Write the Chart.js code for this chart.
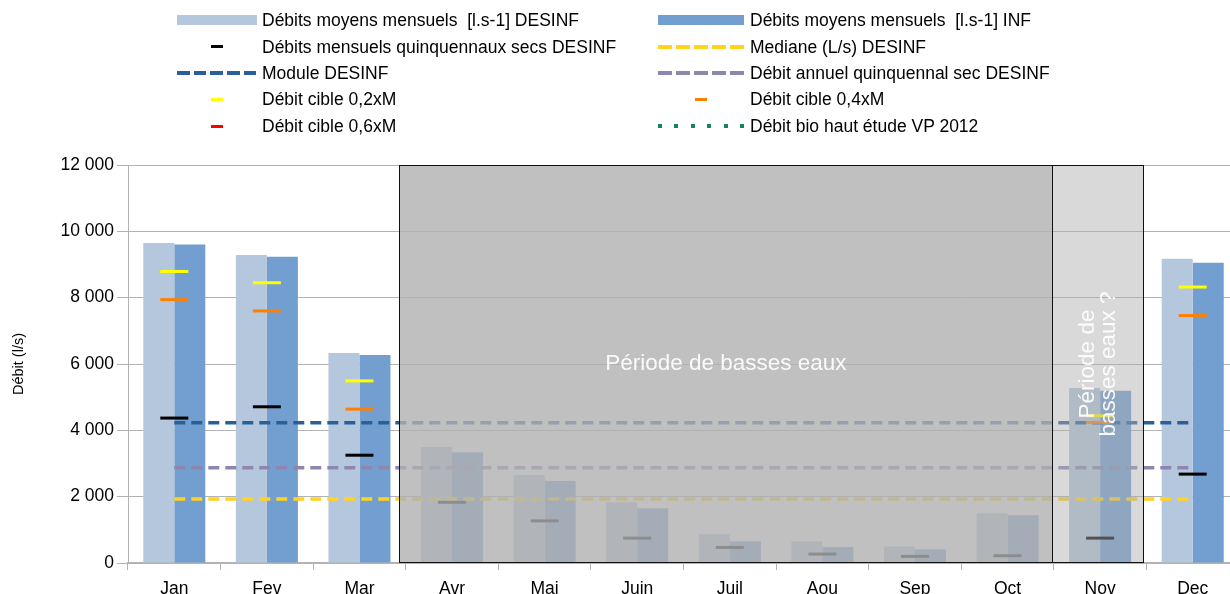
<!DOCTYPE html>
<html lang="fr">
<head>
<meta charset="utf-8">
<title>Débits moyens mensuels</title>
<script src="https://cdn.jsdelivr.net/npm/chart.js@4.4.1/dist/chart.umd.min.js"></script>
<style>
  html, body { margin: 0; padding: 0; background: #fff; overflow: hidden; }
  #wrap { position: relative; width: 1256px; height: 600px; font-family: "Liberation Sans", Arial, sans-serif; }
  #chart { position: absolute; left: 0; top: 0; }
  #legend { position: absolute; left: 0; top: 0; width: 1240px; height: 140px; }
  .item { position: absolute; height: 20px; line-height: 20px; font-size: 17.5px; color: #000; white-space: pre; }
  .sym { position: absolute; }
</style>
</head>
<body>
<div id="wrap">
  <canvas id="chart" width="1256" height="600"></canvas>
  <div id="legend"></div>
</div>
<script>
// categories
const months = ['Jan', 'Fev', 'Mar', 'Avr', 'Mai', 'Juin', 'Juil', 'Aou', 'Sep', 'Oct', 'Nov', 'Dec'];

// series (l/s)
const debitsDesinf = [9650, 9290, 6330, 3500, 2650, 1830, 870, 650, 500, 1500, 5280, 9170];
const debitsInf = [9600, 9230, 6270, 3340, 2470, 1650, 650, 480, 410, 1440, 5190, 9050];
const quinquennauxSecs = [4370, 4710, 3250, 1830, 1270, 750, 470, 270, 200, 220, 750, 2680];
const mediane = [1930, 1930, 1930, 1930, 1930, 1930, 1930, 1930, 1930, 1930, 1930, 1930];
const moduleDesinf = [4230, 4230, 4230, 4230, 4230, 4230, 4230, 4230, 4230, 4230, 4230, 4230];
const annuelQuinquennal = [2870, 2870, 2870, 2870, 2870, 2870, 2870, 2870, 2870, 2870, 2870, 2870];
const cible02 = [8790, 8450, 5490, null, null, null, null, null, null, null, 4440, 8320];
const cible04 = [7940, 7600, 4640, null, null, null, null, null, null, null, 4240, 7460];
const cible06 = [null, null, null, null, null, null, null, null, null, null, null, null];
const bioHaut = [null, null, null, null, null, null, null, null, null, null, null, null];

// y ticks
const yTicks = [0, 2000, 4000, 6000, 8000, 10000, 12000];

// shaded periods (in category units)
const zones = [
  { from: 2.43, to: 9.485, fill: 'rgba(176,176,176,0.8)', text: ['Période de basses eaux'], vertical: false },
  { from: 9.485, to: 10.47, fill: 'rgba(174,174,174,0.47)', text: ['Période de', 'basses eaux ?'], vertical: true }
];

function fmt(v) {
  return String(v).replace(/\B(?=(\d{3})+(?!\d))/g, ' ');
}

const FONT = '"Liberation Sans", Arial, sans-serif';

function marker(label, data, color) {
  return {
    type: 'line', label: label, data: data, showLine: false,
    pointStyle: 'line', pointRadius: 14, pointHoverRadius: 14,
    pointBorderWidth: 3, borderColor: color, backgroundColor: color,
    pointBorderColor: color, order: 0, legendKind: 'marker'
  };
}
function dashed(label, data, color, dash, kind) {
  return {
    type: 'line', label: label, data: data, borderColor: color, backgroundColor: color,
    borderWidth: 3.5, borderDash: dash, pointRadius: 0, fill: false, order: 1,
    legendKind: kind || 'dash'
  };
}

const zonesPlugin = {
  id: 'zones',
  afterDatasetsDraw(chart) {
    const ctx = chart.ctx;
    const area = chart.chartArea;
    const x = chart.scales.x;
    ctx.save();
    zones.forEach(z => {
      const x0 = x.getPixelForValue(z.from);
      const x1 = x.getPixelForValue(z.to);
      ctx.fillStyle = z.fill;
      ctx.fillRect(x0, area.top, x1 - x0, area.bottom - area.top);
      ctx.strokeStyle = '#111';
      ctx.lineWidth = 1;
      ctx.strokeRect(Math.round(x0) + 0.5, area.top + 0.5, Math.round(x1 - x0), area.bottom - area.top - 1);
      const cx = (x0 + x1) / 2, cy = (area.top + area.bottom) / 2;
      ctx.fillStyle = 'rgba(255,255,255,0.92)';
      ctx.font = '22.5px ' + FONT;
      ctx.textAlign = 'center';
      ctx.textBaseline = 'middle';
      const lh = 21;
      ctx.save();
      ctx.translate(cx, cy);
      if (z.vertical) ctx.rotate(-Math.PI / 2);
      z.text.forEach((t, i) => {
        ctx.fillText(t, 0, (i - (z.text.length - 1) / 2) * lh);
      });
      ctx.restore();
    });
    ctx.restore();
  }
};

const chart = new Chart(document.getElementById('chart'), {
  type: 'bar',
  data: {
    labels: months,
    datasets: [
      { label: 'Débits moyens mensuels  [l.s-1] DESINF', data: debitsDesinf, backgroundColor: '#b4c7dc', order: 2, legendKind: 'bar' },
      { label: 'Débits moyens mensuels  [l.s-1] INF', data: debitsInf, backgroundColor: '#729fcf', order: 2, legendKind: 'bar' },
      marker('Débits mensuels quinquennaux secs DESINF', quinquennauxSecs, '#000000'),
      dashed('Mediane (L/s) DESINF', mediane, '#ffd320', [11, 6]),
      dashed('Module DESINF', moduleDesinf, '#2a6099', [11, 6]),
      dashed('Débit annuel quinquennal sec DESINF', annuelQuinquennal, '#8e86ae', [11, 6]),
      marker('Débit cible 0,2xM', cible02, '#ffff00'),
      marker('Débit cible 0,4xM', cible04, '#ff8000'),
      marker('Débit cible 0,6xM', cible06, '#ff0000'),
      dashed('Débit bio haut étude VP 2012', bioHaut, '#158466', [4, 12], 'dot')
    ]
  },
  options: {
    responsive: false,
    animation: false,
    devicePixelRatio: 1,
    layout: { padding: { top: 165, left: 0, right: 1, bottom: 0 } },
    datasets: { bar: { categoryPercentage: 0.67, barPercentage: 1.0 } },
    plugins: {
      legend: { display: false },
      tooltip: { enabled: false }
    },
    scales: {
      x: {
        offset: true,
        grid: { display: true, drawOnChartArea: false, offset: true, tickLength: 7, color: '#b3b3b3', lineWidth: 1 },
        border: { color: '#b3b3b3', width: 2 },
        ticks: { color: '#000', font: { family: FONT, size: 17.5 }, padding: 9, maxRotation: 0 },
        afterFit(scale) { scale.height = 37; }
      },
      y: {
        min: 0,
        max: 12000,
        afterBuildTicks(scale) { scale.ticks = yTicks.map(v => ({ value: v })); },
        grid: { color: '#b3b3b3', lineWidth: 1, tickLength: 11 },
        border: { color: '#b3b3b3', width: 1 },
        ticks: { color: '#000', font: { family: FONT, size: 17.5 }, padding: 3, callback: v => fmt(v) },
        title: { display: true, text: 'Débit (l/s)', color: '#000', font: { family: FONT, size: 14.5 }, padding: { top: 10, bottom: 0 } },
        afterFit(scale) { scale.width = 128; }
      }
    }
  },
  plugins: [zonesPlugin]
});

// legend, two columns, built from the chart datasets
const legendCols = [
  { symLeft: 177, symWidth: 80, textLeft: 262 },
  { symLeft: 658, symWidth: 86, textLeft: 750 }
];
const legendRowY = [20, 46.5, 72.5, 99, 126];
const legendEl = document.getElementById('legend');
chart.data.datasets.forEach((ds, i) => {
  const col = legendCols[i % 2];
  const cy = legendRowY[Math.floor(i / 2)];
  const item = document.createElement('div');
  item.className = 'item';
  item.style.left = col.symLeft + 'px';
  item.style.top = (cy - 10) + 'px';
  const sym = document.createElement('div');
  sym.className = 'sym';
  const color = ds.legendKind === 'bar' ? ds.backgroundColor : ds.borderColor;
  if (ds.legendKind === 'bar') {
    Object.assign(sym.style, { left: '0px', top: '5px', width: col.symWidth + 'px', height: '10px', background: color });
  } else if (ds.legendKind === 'marker') {
    Object.assign(sym.style, { left: (col.symWidth / 2 - 6) + 'px', top: '8.5px', width: '12px', height: '3px', background: color });
  } else if (ds.legendKind === 'dot') {
    Object.assign(sym.style, { left: '0px', top: '8px', width: col.symWidth + 'px', height: '4px',
      background: 'repeating-linear-gradient(to right, ' + color + ' 0 4px, transparent 4px 16.5px)' });
  } else {
    const d = col.symWidth === 80 ? 12.7 : 14, g = 4;
    Object.assign(sym.style, { left: '0px', top: '8px', width: col.symWidth + 'px', height: '4px',
      background: 'repeating-linear-gradient(to right, ' + color + ' 0 ' + d + 'px, transparent ' + d + 'px ' + (d + g) + 'px)' });
  }
  const txt = document.createElement('span');
  txt.textContent = ds.label;
  txt.style.position = 'absolute';
  txt.style.left = (col.textLeft - col.symLeft) + 'px';
  txt.style.top = '0px';
  item.appendChild(sym);
  item.appendChild(txt);
  legendEl.appendChild(item);
});
</script>
</body>
</html>
